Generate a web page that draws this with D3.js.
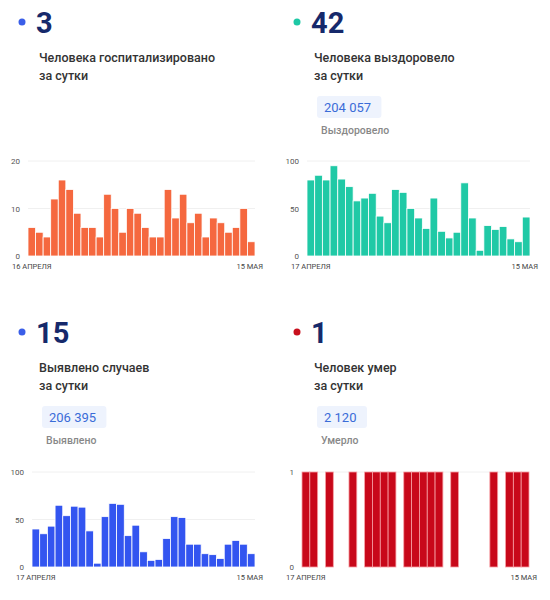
<!DOCTYPE html>
<html><head><meta charset="utf-8">
<script src="https://cdn.jsdelivr.net/npm/d3@7"></script>
<style>body{margin:0;background:#fff;font-family:Roboto,"Noto Sans",sans-serif}</style>
</head><body><div id="main"></div>
<script>
const hospValues = [6,5,4,12,16,14,9,6,6,4,13,10,5,10,9,6,4,4,14,8,13,7,9,4,8,7,5,6,10,3];
const recValues = [80,85,80,95,81,73,58,61,66,42,35,70,67,50,40,29,61,26,19,25,77,40,6,32,28,31,18,15,41];
const caseValues = [40,35,43,65,54,64,63,38,4,53,67,66,33,44,16,7,8,30,53,52,24,24,14,13,9,24,28,24,14];
const deathValues = [1,1,0,1,0,0,1,0,1,1,1,1,0,1,1,1,1,1,0,1,0,0,0,0,1,0,1,1,1];
const panels = [
  {x:0, y:0, num:"3", dot:"#3a5ee8", title:["Человека госпитализировано","за сутки"], total:null, totalLabel:null,
   values:hospValues, max:20, ticks:[0,10,20], color:"#f5683f", stroke:"#fff", start:"16 АПРЕЛЯ", end:"15 МАЯ", cy:161, cx0:28, cx1:255},
  {x:275, y:0, num:"42", dot:"#1ec8a5", title:["Человека выздоровело","за сутки"], total:"204 057", totalLabel:"Выздоровело",
   values:recValues, max:100, ticks:[0,50,100], color:"#20c9a6", stroke:"#fff", start:"17 АПРЕЛЯ", end:"15 МАЯ", cy:161, cx0:307, cx1:530},
  {x:0, y:310, num:"15", dot:"#3a5ee8", title:["Выявлено случаев","за сутки"], total:"206 395", totalLabel:"Выявлено",
   values:caseValues, max:100, ticks:[0,50,100], color:"#3355f0", stroke:"#fff", start:"17 АПРЕЛЯ", end:"15 МАЯ", cy:472, cx0:32, cx1:255},
  {x:275, y:310, num:"1", dot:"#c8101e", title:["Человек умер","за сутки"], total:"2 120", totalLabel:"Умерло",
   values:deathValues, max:1, ticks:[0,1], color:"#c8081a", stroke:"#f7a0a5", start:"17 АПРЕЛЯ", end:"15 МАЯ", cy:472, cx0:302, cx1:529}
];
const svg = d3.select("#main").append("svg").attr("width",550).attr("height",600);
panels.forEach(p => {
  const g = svg.append("g");
  g.append("circle").attr("cx",p.x+22).attr("cy",p.y+22).attr("r",3.5).attr("fill",p.dot);
  g.append("text").attr("x",p.x+36).attr("y",p.y+33).attr("font-size",29).attr("font-weight",700)
    .attr("fill","#16296b").text(p.num);
  p.title.forEach((t,i)=> g.append("text").attr("x",p.x+39).attr("y",p.y+62+i*18)
    .attr("font-size",12.5).attr("font-weight",500).attr("fill","#333").text(t));
  if (p.total) {
    const tw = p.total.length*7.2+14;
    g.append("rect").attr("x",p.x+42).attr("y",p.y+96).attr("width",tw).attr("height",22).attr("rx",3).attr("fill","#eef3fd");
    g.append("text").attr("x",p.x+49).attr("y",p.y+112).attr("font-size",13).attr("fill","#3a6cd8").text(p.total);
    g.append("text").attr("x",p.x+46).attr("y",p.y+134).attr("font-size",10.5).attr("font-weight",500).attr("fill","#888").text(p.totalLabel);
  }
  const base = p.cy+95;
  const xs = d3.scaleBand().domain(d3.range(p.values.length)).range([p.cx0,p.cx1]).paddingInner(0);
  const ys = d3.scaleLinear().domain([0,p.max]).range([base,p.cy]);
  p.ticks.forEach(t=>{
    if (t>0) g.append("line").attr("x1",p.cx0).attr("x2",p.cx1).attr("y1",ys(t)).attr("y2",ys(t)).attr("stroke","#f0f0f0");
    g.append("text").attr("x",p.cx0-8).attr("y",ys(t)+3).attr("text-anchor","end").attr("font-size",8).attr("fill","#555").text(t);
  });
  g.selectAll("rect.bar").data(p.values).join("rect").attr("class","bar")
    .attr("x",(d,i)=>xs(i)).attr("width",xs.bandwidth()).attr("y",d=>ys(d)).attr("height",d=>base-ys(d))
    .attr("fill",p.color).attr("stroke",p.stroke).attr("stroke-width",0.8);
  g.append("text").attr("x",p.cx0-16).attr("y",base+13).attr("font-size",7.5).attr("fill","#444").text(p.start);
  g.append("text").attr("x",p.cx1+8).attr("y",base+13).attr("text-anchor","end").attr("font-size",7.5).attr("fill","#444").text(p.end);
});
</script></body></html>
